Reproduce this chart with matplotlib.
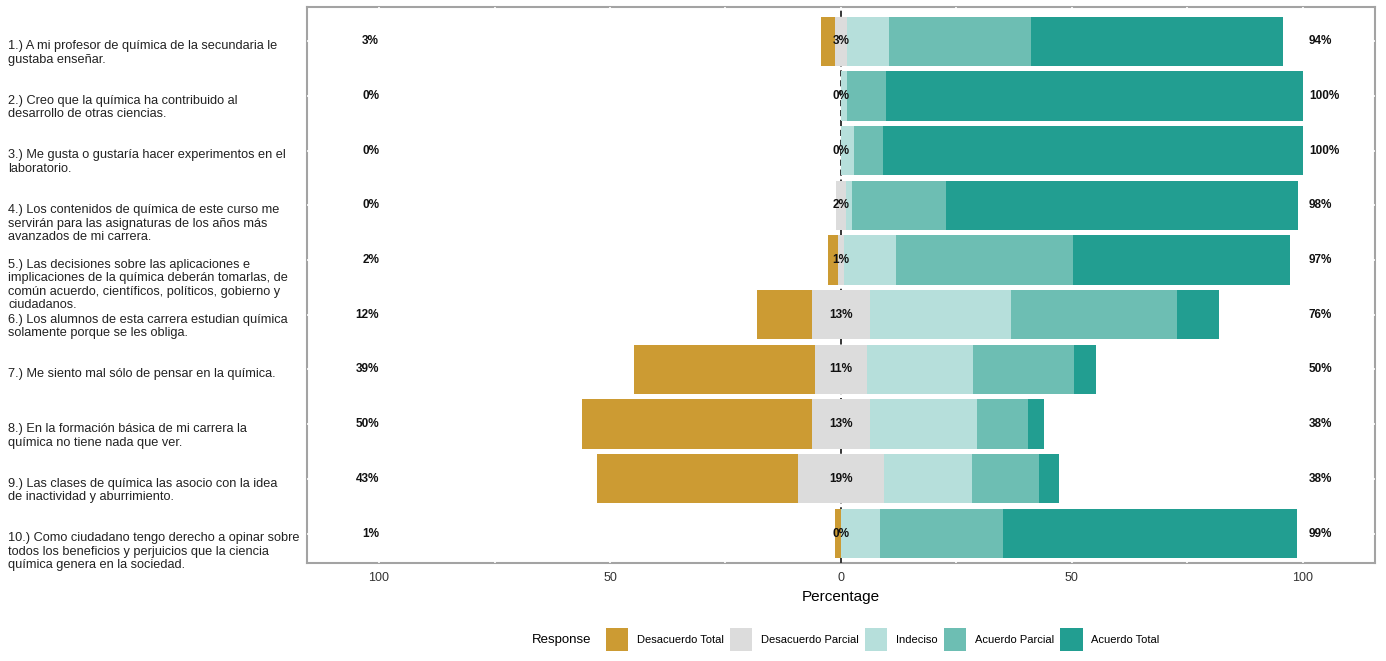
import numpy as np
import matplotlib.pyplot as plt
import matplotlib.patches as mpatch
import matplotlib.transforms as mtrans

plt.rcParams['font.family'] = ['Liberation Sans', 'DejaVu Sans']

# ------------------------------------------------------------------
# data (percent of answers per item)
# ------------------------------------------------------------------
items = [
    '1.) A mi profesor de química de la secundaria le\ngustaba enseñar.',
    '2.) Creo que la química ha contribuido al\ndesarrollo de otras ciencias.',
    '3.) Me gusta o gustaría hacer experimentos en el\nlaboratorio.',
    '4.) Los contenidos de química de este curso me\nservirán para las asignaturas de los años más\navanzados de mi carrera.',
    '5.) Las decisiones sobre las aplicaciones e\nimplicaciones de la química deberán tomarlas, de\ncomún acuerdo, científicos, políticos, gobierno y\nciudadanos.',
    '6.) Los alumnos de esta carrera estudian química\nsolamente porque se les obliga.',
    '7.) Me siento mal sólo de pensar en la química.',
    '8.) En la formación básica de mi carrera la\nquímica no tiene nada que ver.',
    '9.) Las clases de química las asocio con la idea\nde inactividad y aburrimiento.',
    '10.) Como ciudadano tengo derecho a opinar sobre\ntodos los beneficios y perjuicios que la ciencia\nquímica genera en la sociedad.',
]
levels = ['Desacuerdo Total', 'Desacuerdo Parcial', 'Indeciso', 'Acuerdo Parcial', 'Acuerdo Total']

desacuerdo_total = [2.9, 0.0, 0.0, 0.0, 2.1, 11.8, 39.3, 49.7, 43.4, 1.3]
desacuerdo_parcial = [2.7, 0.0, 0.0, 2.2, 1.3, 12.6, 11.1, 12.7, 18.8, 0.0]
indeciso = [9.1, 1.3, 2.9, 1.2, 11.2, 30.6, 23.1, 23.0, 18.9, 8.4]
acuerdo_parcial = [30.8, 8.4, 6.1, 20.5, 38.4, 35.8, 21.7, 11.1, 14.6, 26.7]
acuerdo_total = [54.5, 90.3, 91.0, 76.1, 47.0, 9.2, 4.8, 3.5, 4.3, 63.6]

colors = ['#CC9B33', '#DCDCDC', '#B6DFDB', '#6DBEB3', '#229E91']


def draw_likert(fig, ax):
    n = len(items)
    y = np.arange(n)
    low = np.array(desacuerdo_total)
    mid = np.array(desacuerdo_parcial)
    r1 = np.array(indeciso)
    r2 = np.array(acuerdo_parcial)
    r3 = np.array(acuerdo_total)

    # white grid lines, on top of the border but below the bars
    for gx in np.arange(-100, 101, 25):
        ax.axvline(gx, color='white', lw=1.2, zorder=2.7)
    for gy in y:
        ax.axhline(gy, color='white', lw=1.2, zorder=2.7)
    ax.axvline(0, color='black', lw=1.1, ls=(0, (4, 2.5)), zorder=2.8)

    h = 0.9
    # left side: the grey category is split around zero
    ax.barh(y, -low, left=-mid / 2, height=h, color=colors[0], zorder=3)
    ax.barh(y, mid, left=-mid / 2, height=h, color=colors[1], zorder=3)
    start = mid / 2
    for vals, col in zip([r1, r2, r3], colors[2:]):
        ax.barh(y, vals, left=start, height=h, color=col, zorder=3)
        start = start + vals

    right = r1 + r2 + r3
    for i in range(n):
        ax.text(-100, i, '%d%%' % round(low[i]), ha='right', va='center',
                fontsize=8.5, fontweight='bold', color='#111111', zorder=5)
        ax.text(0, i, '%d%%' % round(mid[i]), ha='center', va='center',
                fontsize=8.5, fontweight='bold', color='#111111', zorder=5)
        ax.text(101.3, i, '%d%%' % round(right[i]), ha='left', va='center',
                fontsize=8.5, fontweight='bold', color='#111111', zorder=5)

    ax.set_xlim(-115.6, 115.6)
    ax.set_ylim(n - 0.47, -0.62)
    ax.set_yticks([])
    ax.set_xticks([-100, -50, 0, 50, 100])
    ax.set_xticklabels(['100', '50', '0', '50', '100'])
    ax.tick_params(axis='x', length=0, pad=7, labelsize=9, labelcolor='#333333')
    ax.set_xlabel('Percentage', fontsize=11, labelpad=4)
    for s in ax.spines.values():
        s.set_color('#A3A3A3')
        s.set_linewidth(1.5)

    # item labels at the left edge of the figure
    trans = mtrans.blended_transform_factory(fig.transFigure, ax.transData)
    for i, lab in enumerate(items):
        ax.text(0.006, i - 0.02, lab, transform=trans, ha='left', va='top',
                fontsize=9.2, linespacing=1.17, color='#222222', clip_on=False)

    # legend
    handles = [mpatch.Patch(facecolor=c, edgecolor='none') for c in colors]
    fig.legend(handles, levels, loc='center', bbox_to_anchor=(0.637, 0.032), ncol=5,
               frameon=False, fontsize=8, handlelength=2.0, handleheight=2.8,
               handletextpad=0.8, columnspacing=0.55)
    fig.text(0.384, 0.032, 'Response', ha='left', va='center', fontsize=9.5)


if __name__ == '__main__':
    fig = plt.figure(figsize=(13.86, 6.61), dpi=100)
    ax = fig.add_axes([0.2215, 0.149, 0.7705, 0.84])
    draw_likert(fig, ax)
    fig.savefig('out.png', dpi=100)
